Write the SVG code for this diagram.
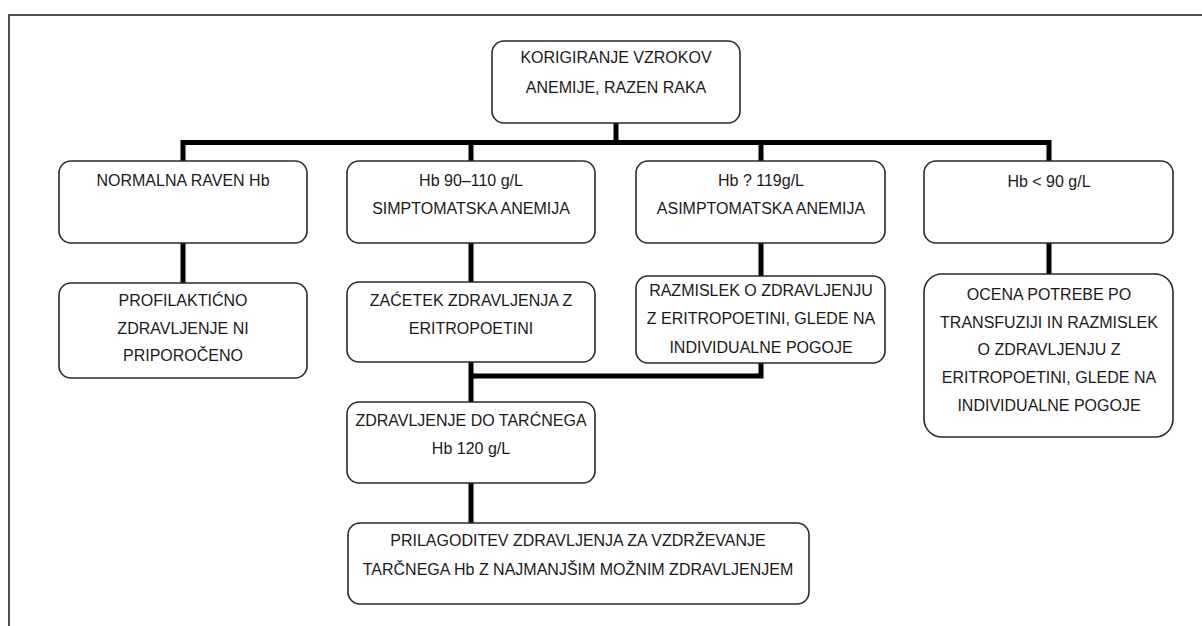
<svg xmlns="http://www.w3.org/2000/svg" width="1202" height="626" viewBox="0 0 1202 626">
<style>
.box{fill:#fff;stroke:#2a2a2a;stroke-width:1.6}
.t{font-family:"Liberation Sans",Arial,sans-serif;font-size:16px;fill:#1a1a1a;text-anchor:middle}
.c{fill:none;stroke:#000;stroke-width:5;stroke-linejoin:miter}
.frame{fill:none;stroke:#505050;stroke-width:2}
</style>
<rect width="1202" height="626" fill="#fff"/>
<path class="frame" d="M9,626 V15 H1202"/>
<g id="connectors">
<path class="c" d="M616,123 V142.5"/>
<path class="c" d="M183,161 V142.5 H1049 V161"/>
<path class="c" d="M471,142.5 V161"/>
<path class="c" d="M761,142.5 V161"/>
<path class="c" d="M183,243 V283"/>
<path class="c" d="M471,243 V282"/>
<path class="c" d="M761,243 V276"/>
<path class="c" d="M1049,243 V274"/>
<path class="c" d="M471,362 V402"/>
<path class="c" d="M471,376 H761 V363"/>
<path class="c" d="M471,483 V523"/>
</g>
<g id="n0">
<rect class="box" x="492" y="41" width="248" height="82" rx="12"/>
<text class="t" x="616" y="63">KORIGIRANJE VZROKOV</text>
<text class="t" x="616" y="93">ANEMIJE, RAZEN RAKA</text>
</g>
<g id="n1">
<rect class="box" x="59" y="161" width="248" height="82" rx="12"/>
<text class="t" x="183" y="186">NORMALNA RAVEN Hb</text>
</g>
<g id="n2">
<rect class="box" x="347" y="161" width="248" height="82" rx="12"/>
<text class="t" x="471" y="186">Hb 90–110 g/L</text>
<text class="t" x="471" y="214">SIMPTOMATSKA ANEMIJA</text>
</g>
<g id="n3">
<rect class="box" x="636" y="161" width="249" height="82" rx="12"/>
<text class="t" x="761" y="186">Hb ? 119g/L</text>
<text class="t" x="761" y="214">ASIMPTOMATSKA ANEMIJA</text>
</g>
<g id="n4">
<rect class="box" x="924" y="161" width="249" height="82" rx="12"/>
<text class="t" x="1049" y="187">Hb &lt; 90 g/L</text>
</g>
<g id="n5">
<rect class="box" x="59" y="283" width="248" height="95" rx="12"/>
<text class="t" x="183" y="306">PROFILAKTIĆNO</text>
<text class="t" x="183" y="334">ZDRAVLJENJE NI</text>
<text class="t" x="183" y="361">PRIPOROČENO</text>
</g>
<g id="n6">
<rect class="box" x="347" y="282" width="248" height="80" rx="12"/>
<text class="t" x="471" y="306">ZAĆETEK ZDRAVLJENJA Z</text>
<text class="t" x="471" y="334">ERITROPOETINI</text>
</g>
<g id="n7">
<rect class="box" x="636" y="276" width="249" height="87" rx="12"/>
<text class="t" x="761" y="296">RAZMISLEK O ZDRAVLJENJU</text>
<text class="t" x="761" y="324">Z ERITROPOETINI, GLEDE NA</text>
<text class="t" x="761" y="353">INDIVIDUALNE POGOJE</text>
</g>
<g id="n8">
<rect class="box" x="924" y="274" width="249" height="163" rx="18"/>
<text class="t" x="1049" y="300">OCENA POTREBE PO</text>
<text class="t" x="1049" y="328">TRANSFUZIJI IN RAZMISLEK</text>
<text class="t" x="1049" y="355">O ZDRAVLJENJU Z</text>
<text class="t" x="1049" y="383">ERITROPOETINI, GLEDE NA</text>
<text class="t" x="1049" y="411">INDIVIDUALNE POGOJE</text>
</g>
<g id="n9">
<rect class="box" x="347" y="402" width="248" height="81" rx="12"/>
<text class="t" x="471" y="426">ZDRAVLJENJE DO TARĆNEGA</text>
<text class="t" x="471" y="454">Hb 120 g/L</text>
</g>
<g id="n10">
<rect class="box" x="348" y="523" width="461" height="81" rx="12"/>
<text class="t" x="578" y="546">PRILAGODITEV ZDRAVLJENJA ZA VZDRŽEVANJE</text>
<text class="t" x="578" y="575">TARČNEGA Hb Z NAJMANJŠIM MOŽNIM ZDRAVLJENJEM</text>
</g>
</svg>
